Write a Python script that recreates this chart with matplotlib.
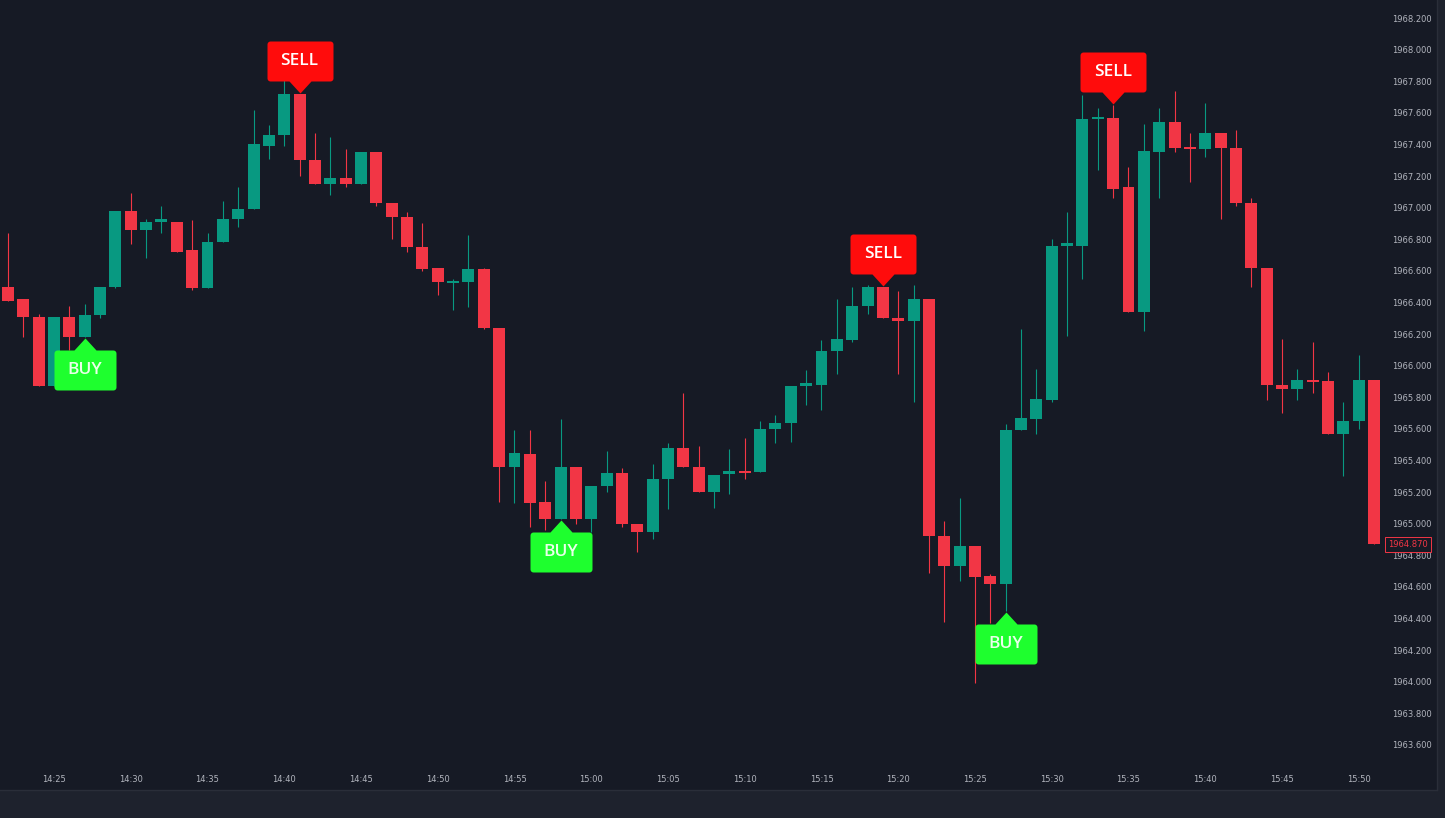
import numpy as np
import pandas as pd
import matplotlib
matplotlib.use("Agg")
import matplotlib.pyplot as plt
from matplotlib.path import Path
from matplotlib.markers import MarkerStyle
from matplotlib.transforms import blended_transform_factory

# 1-minute candles, 14:22 .. 15:51
times = pd.date_range("2023-01-01 14:22", periods=90, freq="min")

opens = [1966.50, 1966.42, 1966.31, 1965.87, 1966.31, 1966.18, 1966.32, 1966.50, 1966.98, 1966.86,
         1966.91, 1966.91, 1966.73, 1966.49, 1966.78, 1966.93, 1966.99, 1967.39, 1967.46, 1967.72,
         1967.30, 1967.15, 1967.19, 1967.15, 1967.35, 1967.03, 1966.94, 1966.75, 1966.62, 1966.52,
         1966.53, 1966.61, 1966.24, 1965.36, 1965.44, 1965.14, 1965.03, 1965.36, 1965.03, 1965.24,
         1965.32, 1965.00, 1964.95, 1965.28, 1965.48, 1965.36, 1965.20, 1965.315, 1965.335, 1965.33,
         1965.60, 1965.64, 1965.87, 1965.88, 1966.09, 1966.16, 1966.38, 1966.50, 1966.30, 1966.28,
         1966.42, 1964.92, 1964.73, 1964.86, 1964.67, 1964.62, 1965.59, 1965.66, 1965.78, 1966.76,
         1966.76, 1967.56, 1967.57, 1967.13, 1966.34, 1967.35, 1967.54, 1967.38, 1967.37, 1967.47,
         1967.38, 1967.03, 1966.62, 1965.88, 1965.85, 1965.91, 1965.90, 1965.57, 1965.65, 1965.91]
highs = [1966.84, 1966.42, 1966.33, 1966.31, 1966.38, 1966.39, 1966.50, 1966.98, 1967.09, 1966.93,
         1967.01, 1966.91, 1966.92, 1966.84, 1967.04, 1967.13, 1967.62, 1967.52, 1967.81, 1967.72,
         1967.47, 1967.45, 1967.37, 1967.35, 1967.35, 1967.03, 1966.97, 1966.90, 1966.62, 1966.55,
         1966.83, 1966.62, 1966.24, 1965.59, 1965.59, 1965.27, 1965.66, 1965.36, 1965.24, 1965.46,
         1965.35, 1965.00, 1965.38, 1965.51, 1965.83, 1965.49, 1965.31, 1965.47, 1965.54, 1965.65,
         1965.69, 1965.87, 1965.97, 1966.16, 1966.42, 1966.50, 1966.51, 1966.50, 1966.47, 1966.51,
         1966.42, 1965.02, 1965.16, 1964.86, 1964.68, 1965.63, 1966.23, 1965.98, 1966.80, 1966.97,
         1967.71, 1967.63, 1967.65, 1967.26, 1967.53, 1967.63, 1967.74, 1967.47, 1967.66, 1967.47,
         1967.49, 1967.06, 1966.62, 1966.17, 1965.98, 1966.15, 1965.96, 1965.77, 1966.07, 1965.91]
lows = [1966.41, 1966.18, 1965.87, 1965.87, 1966.10, 1966.18, 1966.30, 1966.49, 1966.77, 1966.68,
        1966.84, 1966.72, 1966.48, 1966.49, 1966.78, 1966.88, 1966.99, 1967.31, 1967.39, 1967.20,
        1967.15, 1967.08, 1967.13, 1967.15, 1967.01, 1966.80, 1966.72, 1966.60, 1966.45, 1966.35,
        1966.37, 1966.23, 1965.14, 1965.13, 1964.98, 1964.96, 1965.03, 1965.00, 1964.95, 1965.20,
        1964.98, 1964.82, 1964.90, 1965.09, 1965.36, 1965.20, 1965.10, 1965.19, 1965.28, 1965.33,
        1965.51, 1965.52, 1965.75, 1965.72, 1965.95, 1966.15, 1966.33, 1966.30, 1965.95, 1965.77,
        1964.69, 1964.38, 1964.64, 1963.99, 1964.37, 1964.45, 1965.59, 1965.57, 1965.77, 1966.19,
        1966.55, 1967.24, 1967.06, 1966.34, 1966.22, 1967.06, 1967.35, 1967.16, 1967.32, 1966.93,
        1967.01, 1966.50, 1965.78, 1965.70, 1965.78, 1965.83, 1965.57, 1965.30, 1965.60, 1964.87]
closes = [1966.41, 1966.31, 1965.87, 1966.31, 1966.18, 1966.32, 1966.50, 1966.98, 1966.86, 1966.91,
          1966.915, 1966.72, 1966.49, 1966.78, 1966.93, 1966.99, 1967.40, 1967.46, 1967.72, 1967.30,
          1967.15, 1967.19, 1967.15, 1967.35, 1967.03, 1966.94, 1966.75, 1966.61, 1966.53, 1966.53,
          1966.61, 1966.24, 1965.36, 1965.45, 1965.13, 1965.03, 1965.36, 1965.03, 1965.24, 1965.32,
          1965.00, 1964.95, 1965.28, 1965.48, 1965.36, 1965.20, 1965.31, 1965.335, 1965.32, 1965.60,
          1965.64, 1965.87, 1965.89, 1966.09, 1966.17, 1966.38, 1966.50, 1966.30, 1966.28, 1966.42,
          1964.92, 1964.73, 1964.86, 1964.66, 1964.62, 1965.59, 1965.67, 1965.79, 1966.76, 1966.77,
          1967.56, 1967.57, 1967.12, 1966.34, 1967.36, 1967.54, 1967.38, 1967.37, 1967.47, 1967.38,
          1967.03, 1966.62, 1965.88, 1965.85, 1965.91, 1965.895, 1965.57, 1965.65, 1965.91, 1964.87]

buy_idx = [5, 36, 65]
sell_idx = [19, 57, 72]
last_price = 1964.870

yticks = np.round(np.arange(1963.6, 1968.21, 0.2), 3)

BG = "#161a25"
OUTER = "#1e222d"
UP = "#089981"
DOWN = "#f23645"
TXT = "#b2b5be"

W, H = 1445, 818
fig = plt.figure(figsize=(W / 100, H / 100), dpi=100, facecolor=OUTER)

bg = fig.add_axes([0, 28 / H, 1437 / W, 790 / H])
bg.set_facecolor(BG)
bg.set_xticks([])
bg.set_yticks([])
for s in bg.spines.values():
    s.set_color("#2a2e39")
    s.set_linewidth(1)
bg.spines["top"].set_visible(False)
bg.spines["left"].set_visible(False)

ax = fig.add_axes([0, 56 / H, 1383 / W, 762 / H])
ax.patch.set_alpha(0)
for s in ax.spines.values():
    s.set_visible(False)

x = np.arange(len(opens))
o = np.array(opens)
h = np.array(highs)
l = np.array(lows)
c = np.array(closes)
up = c >= o
cols = np.where(up, UP, DOWN)

ax.vlines(x, l, h, colors=cols, linewidth=0.8, zorder=2)
body = np.maximum(np.abs(c - o), 0.015)
ax.bar(x, body, bottom=np.minimum(o, c), width=0.78, color=cols, linewidth=0, zorder=3)

ax.set_xlim(-0.518, 89.58)
ax.set_ylim(1963.492, 1968.314)

# time ticks every 5 minutes
tick_pos = [i for i, t in enumerate(times) if t.minute % 5 == 0]
ax.set_xticks(tick_pos)
ax.set_xticklabels([times[i].strftime("%H:%M") for i in tick_pos])
ax.yaxis.tick_right()
ax.set_yticks(yticks)
ax.set_yticklabels([f"{v:.3f}" for v in yticks])
ax.tick_params(axis="x", length=0, pad=9, labelsize=6, labelcolor=TXT)
ax.tick_params(axis="y", length=0, pad=6.5, labelsize=6, labelcolor=TXT)


def rounded_label(w, pointer_up):
    # pixel-unit outline: pointer tip near origin, box on the far side
    hw, r = w / 2, 3
    pts = [(0, 1), (11, 13)]
    corners = [(hw - r, 13 + r, -90), (hw - r, 53 - r, 0), (-hw + r, 53 - r, 90), (-hw + r, 13 + r, 180)]
    for cx, cy, a0 in corners:
        a = np.radians(np.linspace(a0, a0 + 90, 5))
        pts += list(zip(cx + r * np.cos(a), cy + r * np.sin(a)))
    pts += [(-11, 13), (0, 1)]
    v = np.array(pts)
    if pointer_up:
        v[:, 1] *= -1
    scale = np.abs(v).max()
    return MarkerStyle(Path(v, closed=True)), 1.44 * scale


buy_m, buy_ms = rounded_label(62, True)
sell_m, sell_ms = rounded_label(66, False)

for i in buy_idx:
    ax.plot(x[i], l[i], marker=buy_m, markersize=buy_ms, color="#1eff2e",
            markeredgewidth=0, linestyle="none", zorder=5)
    ax.annotate("BUY", xy=(x[i], l[i]), xytext=(0, -33 * 0.72), textcoords="offset points",
                ha="center", va="center", fontsize=12.5, color="#eaffea", weight="semibold",
                family="Open Sans", zorder=6)
for i in sell_idx:
    ax.plot(x[i], h[i], marker=sell_m, markersize=sell_ms, color="#ff0c0c",
            markeredgewidth=0, linestyle="none", zorder=5)
    ax.annotate("SELL", xy=(x[i], h[i]), xytext=(0, 33 * 0.72), textcoords="offset points",
                ha="center", va="center", fontsize=12.5, color="white", weight="semibold",
                family="Open Sans", zorder=6)

tr = blended_transform_factory(ax.transAxes, ax.transData)
ax.annotate(f"{last_price:.3f}", xy=(1, last_price), xycoords=tr, xytext=(3.5, 0),
            textcoords="offset points", ha="left", va="center", fontsize=6, color=DOWN,
            bbox=dict(boxstyle="square,pad=0.35", fc=BG, ec=DOWN, lw=0.7),
            annotation_clip=False, zorder=7)

fig.savefig("out.png", dpi=100, facecolor=OUTER)
